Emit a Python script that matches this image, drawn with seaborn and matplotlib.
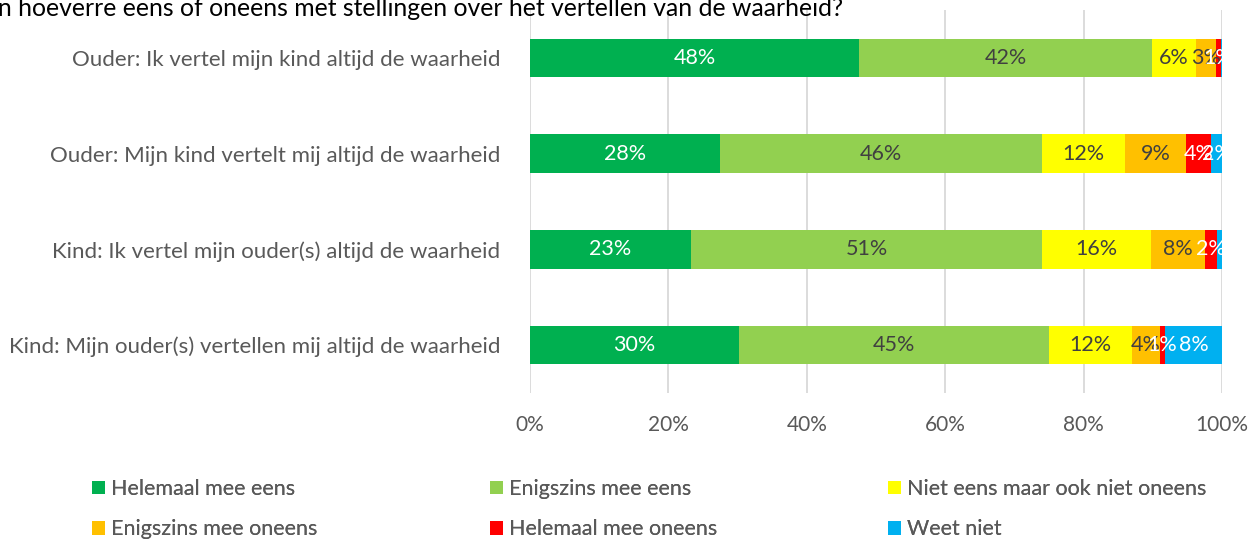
import matplotlib
matplotlib.use("Agg")
import matplotlib.pyplot as plt
import seaborn as sns
import pandas as pd
import numpy as np
from matplotlib.patches import Patch

categories = [
    "Ouder: Ik vertel mijn kind altijd de waarheid",
    "Ouder: Mijn kind vertelt mij altijd de waarheid",
    "Kind: Ik vertel mijn ouder(s) altijd de waarheid",
    "Kind: Mijn ouder(s) vertellen mij altijd de waarheid",
]
series_names = [
    "Helemaal mee eens",
    "Enigszins mee eens",
    "Niet eens maar ook niet oneens",
    "Enigszins mee oneens",
    "Helemaal mee oneens",
    "Weet niet",
]
helemaal_eens = [47.6, 27.5, 23.3, 30.2]
enigszins_eens = [42.3, 46.5, 50.7, 44.8]
neutraal = [6.3, 12.0, 15.7, 12.0]
enigszins_oneens = [2.9, 8.8, 7.8, 4.0]
helemaal_oneens = [0.8, 3.6, 1.8, 0.8]
weet_niet = [0.1, 1.6, 0.7, 8.2]
labels = [
    ["48%", "28%", "23%", "30%"],
    ["42%", "46%", "51%", "45%"],
    ["6%", "12%", "16%", "12%"],
    ["3%", "9%", "8%", "4%"],
    ["1%", "4%", "2%", "1%"],
    ["", "2%", "", "8%"],
]
colors = ["#00b050", "#92d050", "#ffff00", "#ffc000", "#ff0000", "#00b0f0"]
label_colors = ["white", "#404040", "#404040", "#404040", "white", "white"]
xticks = [0, 20, 40, 60, 80, 100]
xtick_labels = ["0%", "20%", "40%", "60%", "80%", "100%"]
title = "In hoeverre eens of oneens met stellingen over het vertellen van de waarheid?"

values = [helemaal_eens, enigszins_eens, neutraal, enigszins_oneens, helemaal_oneens, weet_niet]

sns.set_theme(style="white")
plt.rcParams["font.family"] = ["Lato", "DejaVu Sans"]

fig = plt.figure(figsize=(12.52, 5.42), dpi=100)
ax = fig.add_axes([0.4233, 0.275, 0.5527, 0.7065])

arr = np.array(values)
cum = np.cumsum(arr, axis=0)
starts = cum - arr

for i in range(len(series_names) - 1, -1, -1):
    df = pd.DataFrame({"cat": categories, "val": cum[i]})
    sns.barplot(data=df, y="cat", x="val", orient="h", color=colors[i],
                saturation=1, width=0.4, ax=ax, zorder=3, linewidth=0)

for i in range(len(series_names)):
    for j in range(len(categories)):
        if labels[i][j]:
            cx = starts[i][j] + arr[i][j] / 2
            ax.text(cx, j, labels[i][j], ha="center", va="center",
                    color=label_colors[i], fontsize=15.5, zorder=5)

ax.set_xlim(0, 100)
ax.set_ylim(3.5, -0.5)
ax.set_xticks(xticks)
ax.set_xticklabels(xtick_labels, fontsize=15, color="#595959")
ax.tick_params(axis="y", labelsize=16, labelcolor="#595959", length=0, pad=21.5)
ax.tick_params(axis="x", length=0, pad=16)
ax.set_xlabel("")
ax.set_ylabel("")
ax.grid(axis="x", color="#d9d9d9", linewidth=1.3, zorder=0)
ax.set_axisbelow(True)
for s in ax.spines.values():
    s.set_visible(False)

fig.text(-0.007, 1.005, title, ha="left", va="top", fontsize=17.8, color="black")

col_x = [92, 490, 888]
W, H = 1252, 542
for c in range(3):
    idx = [c, c + 3]
    hs = [Patch(facecolor=colors[k], edgecolor="none") for k in idx]
    lg = fig.legend(hs, [series_names[k] for k in idx], ncol=1, loc="upper left",
                    bbox_to_anchor=(col_x[c] / W, 1 - 479 / H),
                    frameon=False, fontsize=15.5, labelcolor="#595959",
                    handlelength=0.6, handleheight=0.6, handletextpad=0.3,
                    labelspacing=0.95, borderaxespad=0, borderpad=0)
    fig.add_artist(lg)

fig.savefig("out.png", dpi=100)
